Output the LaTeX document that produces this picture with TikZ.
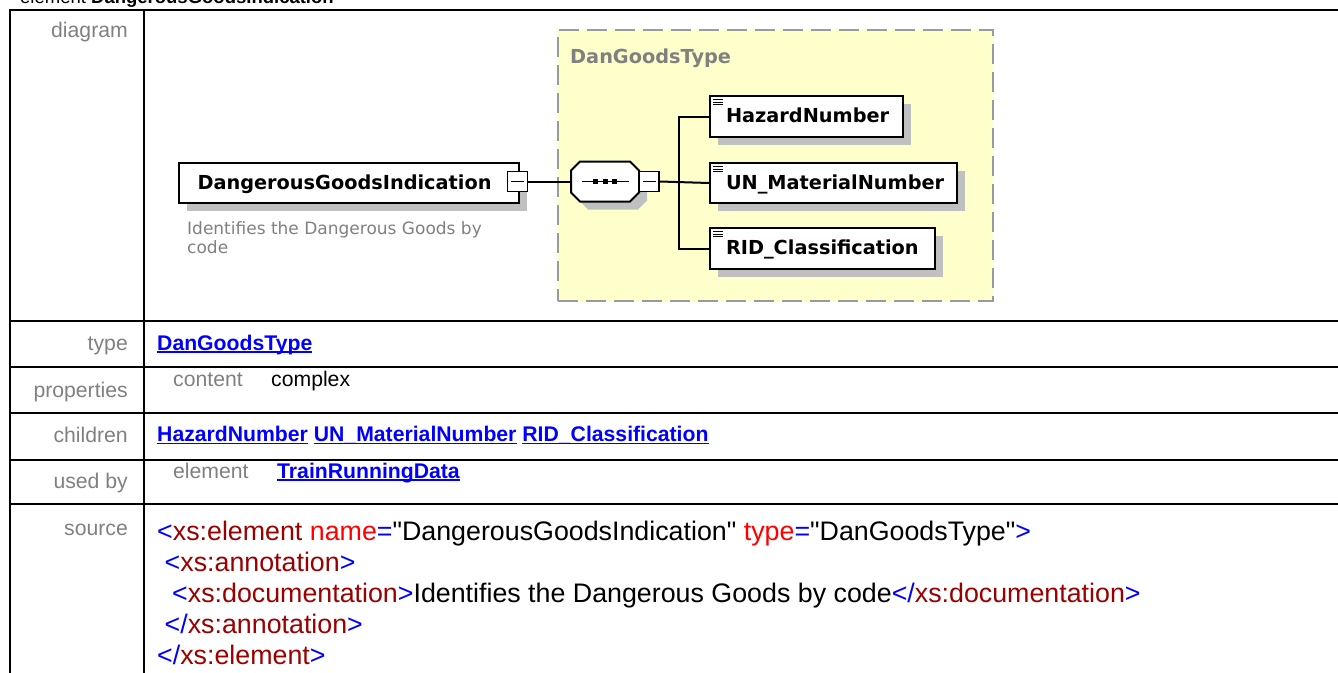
\documentclass[tikz,border=0pt]{standalone}
\usepackage{fontspec}
\newfontfamily\tblfont{Liberation Sans}
\newfontfamily\diafont{DejaVu Sans}
\usetikzlibrary{shadows}

\definecolor{lblgray}{HTML}{808080}
\definecolor{lnkblue}{HTML}{0000FF}
\definecolor{tagred}{HTML}{990000}
\definecolor{attred}{HTML}{FF0000}
\definecolor{framefill}{HTML}{FFFFCC}
\definecolor{framedash}{HTML}{9A9A9A}
\definecolor{shadowgray}{HTML}{C0C0C0}

% sizes of the table text and the source listing
\newcommand\tblsize{\fontsize{21.2}{25}\selectfont}
\newcommand\srcsize{\fontsize{26.8}{31}\selectfont}
\newcommand\diasize{\fontsize{19.3}{23}\selectfont}
\newcommand\annosize{\fontsize{17}{20}\selectfont}

% underlined hyperlink-like word
\newcommand\lnk[1]{\setbox0=\hbox{#1}\rlap{\rule[-2.6pt]{\wd0}{1.5pt}}\box0\relax}
% XML syntax colouring
\newcommand\xsym[1]{\textcolor{lnkblue}{#1}}
\newcommand\xtag[1]{\textcolor{tagred}{#1}}
\newcommand\xatt[1]{\textcolor{attred}{#1}}

\begin{document}
\begin{tikzpicture}[x=1pt,y=-1pt,
  tblrule/.style={line width=2pt, line cap=rect},
  lbl/.style={anchor=base east, inner sep=0, text=lblgray, font=\tblfont\tblsize},
  txt/.style={anchor=base west, inner sep=0, font=\tblfont\tblsize},
  lnktxt/.style={txt, text=lnkblue, font=\tblfont\bfseries\tblsize},
  src/.style={anchor=base west, inner sep=0, font=\tblfont\srcsize},
  frame/.style={draw=framedash, fill=framefill, line width=2pt, dash pattern=on 20pt off 8pt, inner sep=0},
  frametitle/.style={anchor=base west, inner sep=0, text=lblgray, font=\diafont\bfseries\diasize},
  elbox/.style={draw, line width=2pt, fill=white,
    drop shadow={shadow xshift=8pt, shadow yshift=-8pt, fill=shadowgray, opacity=1, draw=none},
    font=\diafont\bfseries\diasize, align=left, text height=14pt, text depth=2pt,
    inner ysep=0, inner xsep=16pt, anchor=north west},
  minus/.style={draw, line width=1.7pt, fill=white, minimum size=20pt, inner sep=0,
    path picture={\draw[line width=1.4pt] ([xshift=3.5pt]path picture bounding box.west) -- ([xshift=-3.5pt]path picture bounding box.east);}},
  conn/.style={line width=2pt},
  anno/.style={anchor=base west, inner sep=0, text=lblgray, font=\diafont\annosize}
]
\useasboundingbox (0,0) rectangle (1338,672);
\clip (0,0) rectangle (1338,672);

% page heading (mostly above the visible area)
\node[txt, font=\tblfont\fontsize{18.5}{22}\selectfont] (hdr) at (20,3.5) {element \textbf{DangerousGoodsIndication}};

% table grid
\draw[tblrule] (10,680) -- (10,10) -- (1345,10);
\draw[tblrule] (144,10) -- (144,680);
\foreach \yy in {321,367,413,459.7,504.3}
  \draw[tblrule] (10,\yy) -- (1345,\yy);

% row labels
\node[lbl] (l-diagram) at (128,37) {diagram};
\node[lbl] (l-type) at (128,350) {type};
\node[lbl] (l-props) at (128,397) {properties};
\node[lbl] (l-children) at (128,442.7) {children};
\node[lbl] (l-usedby) at (128,488.3) {used by};
\node[lbl] (l-source) at (128,535) {source};

% ---- diagram ----
\node[frame, anchor=north west, minimum width=435pt, minimum height=271pt] (dgt) at (557,29) {};
\node[frametitle] (dgt-title) at (570,63.3) {DanGoodsType};

\node[elbox, minimum width=340pt, minimum height=40pt, text width=303pt, inner xsep=18.5pt] (dgi) at (178,162) {\mbox{DangerousGoodsIndication}};
\node[minus] (dgimin) at (517.5,181.5) {};
\node[anno] (doc1) at (187,234) {Identifies the Dangerous Goods by};
\node[anno] (doc2) at (187,253.3) {code};

% sequence compositor
\fill[shadowgray] (588,169.5) -- (638,169.5) -- (647,178.5) -- (647,200.5) -- (638,209.5)
  -- (588,209.5) -- (579,200.5) -- (579,178.5) -- cycle;
\draw[line width=2pt, fill=white] (580,161.5) -- (630,161.5) -- (639,170.5) -- (639,192.5)
  -- (630,201.5) -- (580,201.5) -- (571,192.5) -- (571,170.5) -- cycle;
\node[inner sep=0, minimum width=68pt, minimum height=40pt] (seq) at (605,181.5) {};
\draw[line width=1.6pt] (582,181.5) -- (629,181.5);
\foreach \sx in {593,602.5,612}
  \fill (\sx,179) rectangle ++(5,5);
\node[minus] (seqmin) at (649,181.5) {};

% child elements
\node[elbox, minimum width=193pt, minimum height=41pt, text width=161pt] (hz) at (709,95) {\mbox{HazardNumber}};
\node[elbox, minimum width=247pt, minimum height=40pt, text width=215pt] (un) at (709,162) {\mbox{UN\_MaterialNumber}};
\node[elbox, minimum width=225pt, minimum height=41pt, text width=193pt] (rid) at (709,227) {\mbox{RID\_Classification}};
\foreach \n in {hz,un,rid}
  \foreach \dy in {4.5,7.2,9.9}
    \draw[line width=1pt] ([xshift=4pt,yshift=-\dy pt]\n.north west) -- ++(10,0);

% connectors
\coordinate (bus) at (679,181.5);
\draw[conn] (dgimin.east) -- (seq.west);
\draw[conn] (seqmin.east) -- (un.west);
\draw[conn] (hz.west) -- (hz.west -| bus) -- (rid.west -| bus) -- (rid.west);

% ---- table contents ----
\node[lnktxt] (v-type) at (157,350) {\lnk{DanGoodsType}};
\node[txt, text=lblgray] (p-key) at (173,386) {content};
\node[txt] (p-val) at (271,386) {complex};
\node[lnktxt] (v-children) at (157,441.7) {\lnk{HazardNumber} \lnk{UN\_MaterialNumber} \lnk{RID\_Classification}};
\node[txt, text=lblgray] (u-key) at (173,478.3) {element};
\node[lnktxt] (u-val) at (277,478.3) {\lnk{TrainRunningData}};

% source listing
\node[src] (src1) at (157,540) {\xsym{<}\xtag{xs:element} \xatt{name}\xsym{=}"DangerousGoodsIndication" \xatt{type}\xsym{=}"DanGoodsType"\xsym{>}};
\node[src] (src2) at (164.5,571) {\xsym{<}\xtag{xs:annotation}\xsym{>}};
\node[src] (src3) at (172,602) {\xsym{<}\xtag{xs:documentation}\xsym{>}Identifies the Dangerous Goods by code\xsym{</}\xtag{xs:documentation}\xsym{>}};
\node[src] (src4) at (164.5,633) {\xsym{</}\xtag{xs:annotation}\xsym{>}};
\node[src] (src5) at (157,664) {\xsym{</}\xtag{xs:element}\xsym{>}};
\end{tikzpicture}
\end{document}
